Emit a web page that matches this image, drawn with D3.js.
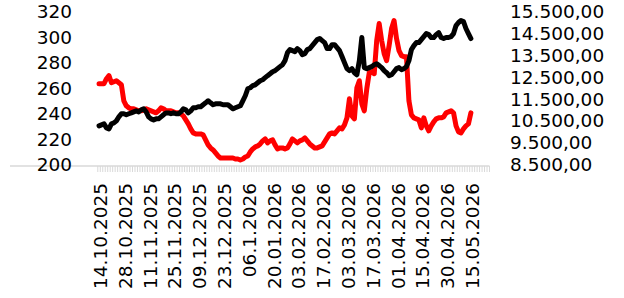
<!DOCTYPE html>
<html>
<head>
<meta charset="utf-8">
<script src="https://cdn.jsdelivr.net/npm/d3@7"></script>
<style>
  html, body { margin: 0; padding: 0; background: #fff; }
  svg { display: block; font-family: "DejaVu Sans", sans-serif; }
</style>
</head>
<body>
<div id="host"></div>
<script>
// date labels shown every 10th category
const dateLabels = [
  '14.10.2025', '28.10.2025', '11.11.2025', '25.11.2025', '09.12.2025', '23.12.2025',
  '06.1.2026', '20.01.2026', '03.02.2026', '17.02.2026', '03.03.2026', '17.03.2026',
  '01.04.2026', '15.04.2026', '30.04.2026', '15.05.2026',
];
const labelEvery = 10;
const categoryCount = 158; // trailing categories have no data

const leftTicks = [200, 220, 240, 260, 280, 300, 320];
const rightTicks = [8500, 9500, 10500, 11500, 12500, 13500, 14500, 15500];

// black series, left axis
const seriesBlack = [
  231.6, 232.4, 233.2, 230.0, 229.2, 233.2, 233.9, 235.5, 238.7, 241.1,
  241.1, 240.3, 241.1, 241.8, 242.6, 243.4, 242.6, 244.2, 245.0, 242.6,
  238.7, 237.1, 236.3, 237.1, 237.1, 238.7, 240.3, 241.8, 241.8, 241.1,
  241.8, 241.1, 241.1, 242.6, 245.0, 244.2, 241.8, 243.4, 245.8, 245.8,
  246.6, 246.6, 248.2, 249.7, 251.3, 249.7, 248.2, 248.9, 248.9, 248.9,
  248.2, 248.2, 248.2, 246.6, 245.0, 245.8, 246.6, 247.4, 251.3, 255.3,
  260.8, 261.6, 263.2, 263.9, 265.5, 267.1, 267.9, 269.5, 271.1, 272.6,
  274.2, 275.0, 276.6, 278.2, 279.7, 282.9, 289.2, 291.6, 290.8, 290.0,
  292.4, 290.8, 287.6, 288.4, 291.6, 292.4, 294.7, 297.1, 299.5, 300.3,
  298.7, 297.1, 292.4, 292.4, 295.5, 295.5, 293.2, 290.8, 286.1, 281.3,
  276.6, 275.0, 276.6, 273.4, 271.8, 282.9, 301.1, 277.4, 276.6, 277.4,
  278.2, 279.7, 280.5, 279.0, 277.4, 275.0, 273.4, 271.1, 271.8, 274.2,
  276.6, 277.4, 275.8, 276.6, 278.2, 282.9, 291.6, 294.7, 297.1, 297.1,
  299.5, 301.8, 304.2, 303.4, 301.1, 301.1, 303.4, 305.0, 301.1, 300.3,
  301.1, 301.1, 301.8, 304.2, 310.5, 312.9, 314.5, 313.7, 308.2, 304.2,
  300.3,
];

// red series, right axis
const seriesRed = [
  12276, 12276, 12276, 12506, 12645, 12322, 12368, 12414, 12322, 12230,
  11493, 11263, 11171, 11125, 11125, 11079, 11033, 11033, 11079, 11125,
  11079, 11033, 10987, 10941, 11033, 11171, 11125, 11033, 11033, 11033,
  10987, 10941, 10941, 10895, 10803, 10618, 10434, 10204, 10020, 9974,
  9974, 9974, 9928, 9697, 9467, 9329, 9237, 9099, 8961, 8868,
  8868, 8868, 8868, 8868, 8868, 8822, 8822, 8776, 8822, 8914,
  8961, 9145, 9283, 9375, 9421, 9513, 9651, 9743, 9559, 9651,
  9697, 9467, 9283, 9329, 9329, 9283, 9329, 9513, 9743, 9651,
  9559, 9651, 9697, 9789, 9651, 9513, 9421, 9329, 9329, 9375,
  9421, 9605, 9789, 9974, 10020, 9974, 10112, 10250, 10204, 10388,
  10710, 11585, 10803, 10664, 12092, 12414, 11355, 11033, 12046, 12783,
  12829, 12737, 14256, 15039, 14256, 13658, 13335, 14026, 14809, 15177,
  14348, 13796, 13566, 13520, 13520, 11493, 10849, 10710, 10664, 10618,
  10250, 10710, 10342, 10112, 10342, 10526, 10664, 10710, 10710, 10757,
  10941, 10987, 11033, 10941, 10342, 10066, 10020, 10204, 10342, 10434,
  10941,
];

const width = 624;
const height = 298;

const svg = d3.select('#host')
  .append('svg')
  .attr('width', width)
  .attr('height', height);

const x = d3.scaleBand()
  .domain(d3.range(categoryCount))
  .range([97.8, 489.5]);
const xc = (i) => x(i) + x.bandwidth() / 2;
const xEdge = d3.scaleLinear().domain([0, categoryCount]).range(x.range());

const yLeft = d3.scaleLinear().domain([200, 320]).range([166, 13.5]);
const yRight = d3.scaleLinear().domain([8500, 15500]).range([166, 13.5]);

// axis line + dense category ticks
svg.append('line')
  .attr('x1', 10).attr('x2', 489.5)
  .attr('y1', 166).attr('y2', 166)
  .attr('stroke', '#d9d9d9')
  .attr('stroke-width', 1.5);

svg.append('g')
  .selectAll('line')
  .data(d3.range(categoryCount + 1))
  .join('line')
  .attr('x1', (i) => xEdge(i)).attr('x2', (i) => xEdge(i))
  .attr('y1', 166).attr('y2', 172)
  .attr('stroke', '#d9d9d9')
  .attr('stroke-width', 1);

// left axis labels
svg.append('g')
  .attr('transform', 'translate(72,-1.5)')
  .call(d3.axisLeft(yLeft).tickValues(leftTicks).tickSize(0).tickPadding(0))
  .call((g) => g.select('.domain').remove())
  .selectAll('text')
  .attr('font-family', '"DejaVu Sans", sans-serif')
  .attr('font-size', 18.5)
  .attr('fill', '#000');

// right axis labels
svg.append('g')
  .attr('transform', 'translate(510,-1.5)')
  .call(d3.axisRight(yRight).tickValues(rightTicks).tickSize(0).tickPadding(0)
    .tickFormat((v) => d3.format(',.2f')(v).replace(/,/g, ' ').replace('.', ',').replace(/ /g, '.')))
  .call((g) => g.select('.domain').remove())
  .selectAll('text')
  .attr('font-family', '"DejaVu Sans", sans-serif')
  .attr('font-size', 18.5)
  .attr('fill', '#000');

// rotated date labels
svg.append('g')
  .selectAll('text')
  .data(dateLabels)
  .join('text')
  .attr('transform', (d, k) => `translate(${xc(k * labelEvery) + 1.5},183) rotate(-90)`)
  .attr('text-anchor', 'end')
  .attr('dy', '0.35em')
  .attr('font-size', 18.5)
  .attr('fill', '#000')
  .text((d) => d);

const lineLeft = d3.line().x((d, i) => xc(i)).y((d) => yLeft(d));
const lineRight = d3.line().x((d, i) => xc(i)).y((d) => yRight(d));

svg.append('path')
  .datum(seriesRed)
  .attr('d', lineRight)
  .attr('fill', 'none')
  .attr('stroke', '#ff0000')
  .attr('stroke-width', 5)
  .attr('stroke-linejoin', 'round')
  .attr('stroke-linecap', 'round');

svg.append('path')
  .datum(seriesBlack)
  .attr('d', lineLeft)
  .attr('fill', 'none')
  .attr('stroke', '#000')
  .attr('stroke-width', 5)
  .attr('stroke-linejoin', 'round')
  .attr('stroke-linecap', 'round');
</script>
</body>
</html>
